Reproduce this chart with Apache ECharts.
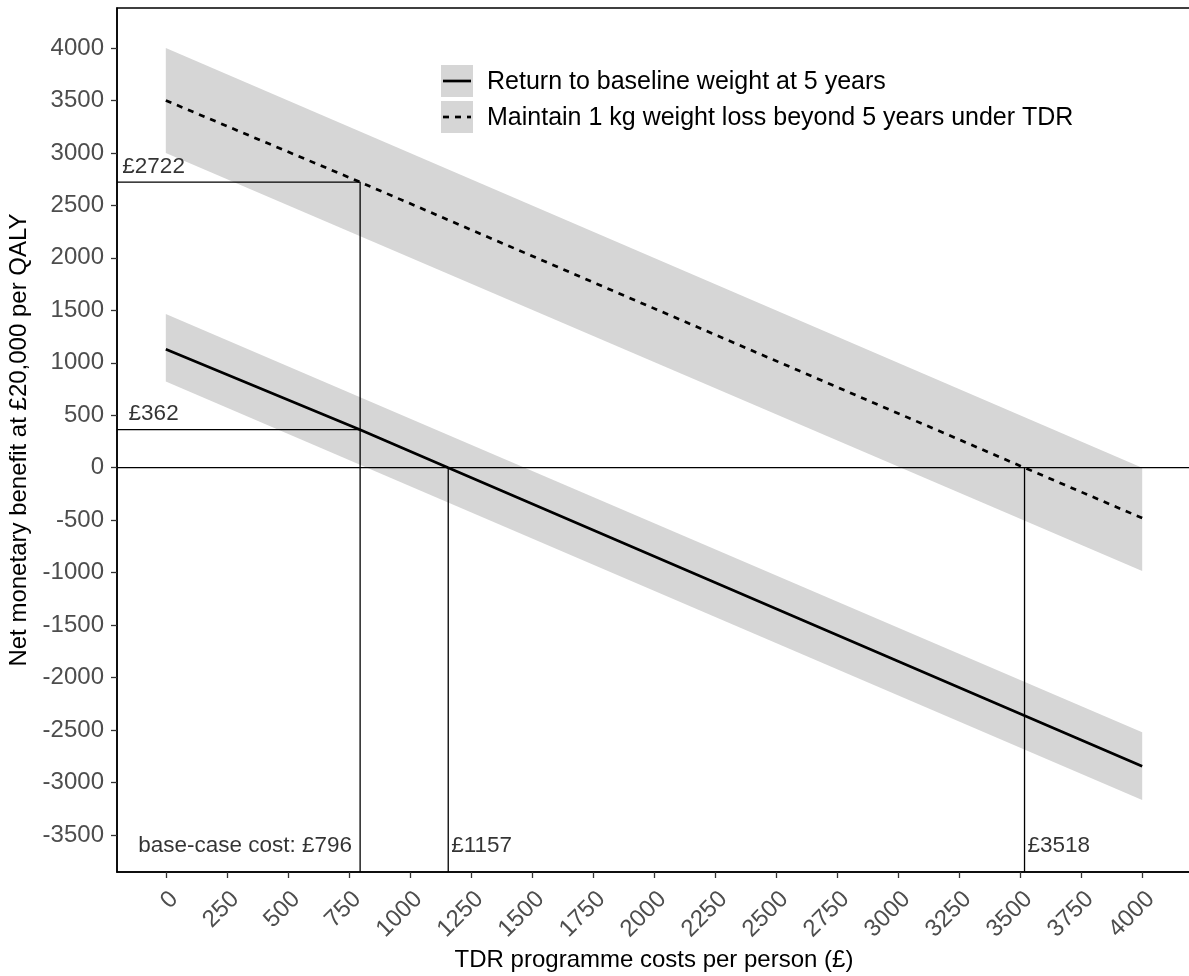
<!DOCTYPE html>
<html>
<head>
<meta charset="utf-8">
<script src="https://cdn.jsdelivr.net/npm/echarts@6/dist/echarts.min.js"></script>
<style>
  html, body { margin: 0; padding: 0; background: #fff; }
  #chart { width: 1189px; height: 976px; }
</style>
</head>
<body>
<div id="chart"></div>
<script>
// ---- Data ----
// Programme cost (x) at the two ends of the uncertainty bands
const bandCosts = [0, 4000];
// Uncertainty band: return to baseline weight at 5 years
const baselineBandHi = [1465, -2522];
const baselineBandLo = [822, -3167];
// Uncertainty band: maintain 1 kg weight loss beyond 5 years
const maintainBandHi = [4000, 0];
const maintainBandLo = [3000, -985];

// Central estimates of net monetary benefit
const baselineCosts = [0, 796, 1157, 4000];
const baselineNMB   = [1130, 362, 0, -2845];
const maintainCosts = [0, 796, 3518, 4000];
const maintainNMB   = [3500, 2722, 0, -480];

// Key values called out on the chart
const baseCaseCost = 796;
const baseCaseNMBBaseline = 362;
const baseCaseNMBMaintain = 2722;
const breakEvenBaseline = 1157;
const breakEvenMaintain = 3518;

// Axis ticks and ranges
const xTicks = [0, 250, 500, 750, 1000, 1250, 1500, 1750, 2000, 2250, 2500, 2750, 3000, 3250, 3500, 3750, 4000];
const yTicks = [-3500, -3000, -2500, -2000, -1500, -1000, -500, 0, 500, 1000, 1500, 2000, 2500, 3000, 3500, 4000];
const xRange = [-200, 4200];
const yRange = [-3853, 4381];

const legendLabels = [
  'Return to baseline weight at 5 years',
  'Maintain 1 kg weight loss beyond 5 years under TDR'
];
const xTitle = 'TDR programme costs per person (£)';
const yTitle = 'Net monetary benefit at £20,000 per QALY';

// ---- Styling ----
const FONT = '"Liberation Sans", Arial, Helvetica, sans-serif';
const BAND = '#D6D6D6';
const TICK_COLOR = '#4D4D4D';
const DASH = [6, 6];

const chart = echarts.init(document.getElementById('chart'), null, { renderer: 'canvas' });

function bandSeries(lo, hi) {
  const pts = bandCosts.map((c, i) => [c, lo[i], hi[i]]);
  return {
    type: 'custom',
    data: pts,
    silent: true,
    z: 1,
    encode: { x: 0, y: [1, 2] },
    renderItem(params, api) {
      if (params.dataIndex !== 0) return null;
      const top = pts.map(d => api.coord([d[0], d[2]]));
      const bottom = pts.map(d => api.coord([d[0], d[1]])).reverse();
      return { type: 'polygon', shape: { points: top.concat(bottom) }, style: { fill: BAND } };
    }
  };
}

function pairs(xs, ys) { return xs.map((x, i) => [x, ys[i]]); }

function refLine(points) {
  return {
    type: 'line', data: points, showSymbol: false, symbol: 'none', silent: true, z: 3,
    lineStyle: { color: '#000', width: 1.3 }
  };
}

const plainNumber = v => String(v);
const sideLabelX = -50;
const labelFont = { fontFamily: FONT, fontSize: 22.5, color: '#000' };

const option = {
  animation: false,
  backgroundColor: '#fff',
  grid: {
    left: 117, top: 8, width: 1074, height: 864,
    outerBoundsMode: 'none', containLabel: false,
    show: true, borderColor: '#000', borderWidth: 1.5, backgroundColor: 'transparent'
  },
  xAxis: {
    type: 'value', min: xRange[0], max: xRange[1],
    name: xTitle, nameLocation: 'middle', nameGap: 69,
    nameTextStyle: { fontFamily: FONT, fontSize: 24, color: '#000' },
    splitLine: { show: false },
    axisLine: { show: true, onZero: false, lineStyle: { color: '#000', width: 1.5 } },
    axisTick: { show: true, customValues: xTicks, length: 6, lineStyle: { color: '#333', width: 1.3 } },
    axisLabel: {
      customValues: xTicks, rotate: 45, margin: 15, formatter: plainNumber,
      align: 'right', verticalAlign: 'top',
      fontFamily: FONT, fontSize: 24, color: TICK_COLOR
    }
  },
  yAxis: {
    type: 'value', min: yRange[0], max: yRange[1],
    name: yTitle, nameLocation: 'middle', nameGap: 78,
    nameTextStyle: { fontFamily: FONT, fontSize: 24, color: '#000' },
    splitLine: { show: false },
    axisLine: { show: true, onZero: false, lineStyle: { color: '#000', width: 1.5 } },
    axisTick: { show: true, customValues: yTicks, length: 6, lineStyle: { color: '#333', width: 1.3 } },
    axisLabel: {
      customValues: yTicks, margin: 13, formatter: plainNumber,
      fontFamily: FONT, fontSize: 24, color: TICK_COLOR
    }
  },
  series: [
    bandSeries(maintainBandLo, maintainBandHi),
    bandSeries(baselineBandLo, baselineBandHi),
    // zero line
    refLine([[xRange[0], 0], [xRange[1], 0]]),
    // base-case cost: NMB under each scenario
    refLine([[xRange[0], baseCaseNMBMaintain], [baseCaseCost, baseCaseNMBMaintain], [baseCaseCost, yRange[0]]]),
    refLine([[xRange[0], baseCaseNMBBaseline], [baseCaseCost, baseCaseNMBBaseline]]),
    // break-even programme costs
    refLine([[breakEvenBaseline, 0], [breakEvenBaseline, yRange[0]]]),
    refLine([[breakEvenMaintain, 0], [breakEvenMaintain, yRange[0]]]),
    {
      name: legendLabels[0], type: 'line', data: pairs(baselineCosts, baselineNMB),
      showSymbol: false, symbol: 'none', z: 4,
      lineStyle: { color: '#000', width: 2.7 }
    },
    {
      name: legendLabels[1], type: 'line', data: pairs(maintainCosts, maintainNMB),
      showSymbol: false, symbol: 'none', z: 4,
      lineStyle: { color: '#000', width: 2.7, type: DASH }
    },
    {
      type: 'scatter', symbolSize: 0, silent: true, z: 5,
      data: [
        { value: [sideLabelX, baseCaseNMBMaintain],
          label: { show: true, formatter: '£' + baseCaseNMBMaintain, position: 'top', distance: 4, ...labelFont } },
        { value: [sideLabelX, baseCaseNMBBaseline],
          label: { show: true, formatter: '£' + baseCaseNMBBaseline, position: 'top', distance: 4, ...labelFont } },
        { value: [baseCaseCost, yRange[0]],
          label: { show: true, formatter: 'base-case cost: £' + baseCaseCost, position: [-8, -15],
                   align: 'right', verticalAlign: 'bottom', ...labelFont } },
        { value: [breakEvenBaseline, yRange[0]],
          label: { show: true, formatter: '£' + breakEvenBaseline, position: [3, -15],
                   align: 'left', verticalAlign: 'bottom', ...labelFont } },
        { value: [breakEvenMaintain, yRange[0]],
          label: { show: true, formatter: '£' + breakEvenMaintain, position: [3, -15],
                   align: 'left', verticalAlign: 'bottom', ...labelFont } }
      ]
    }
  ],
  graphic: [
    { type: 'rect', shape: { x: 441, y: 65, width: 32, height: 32 }, style: { fill: BAND }, z: 10 },
    { type: 'line', shape: { x1: 443, y1: 81, x2: 471, y2: 81 }, style: { stroke: '#000', lineWidth: 2.7 }, z: 11 },
    { type: 'text', x: 487, y: 82, z: 11,
      style: { text: legendLabels[0], fontFamily: FONT, fontSize: 25, fill: '#000', verticalAlign: 'middle' } },
    { type: 'rect', shape: { x: 441, y: 101, width: 32, height: 32 }, style: { fill: BAND }, z: 10 },
    { type: 'line', shape: { x1: 443, y1: 117, x2: 471, y2: 117 }, style: { stroke: '#000', lineWidth: 2.7, lineDash: DASH }, z: 11 },
    { type: 'text', x: 487, y: 118, z: 11,
      style: { text: legendLabels[1], fontFamily: FONT, fontSize: 25, fill: '#000', verticalAlign: 'middle' } }
  ]
};

chart.setOption(option);
</script>
</body>
</html>
